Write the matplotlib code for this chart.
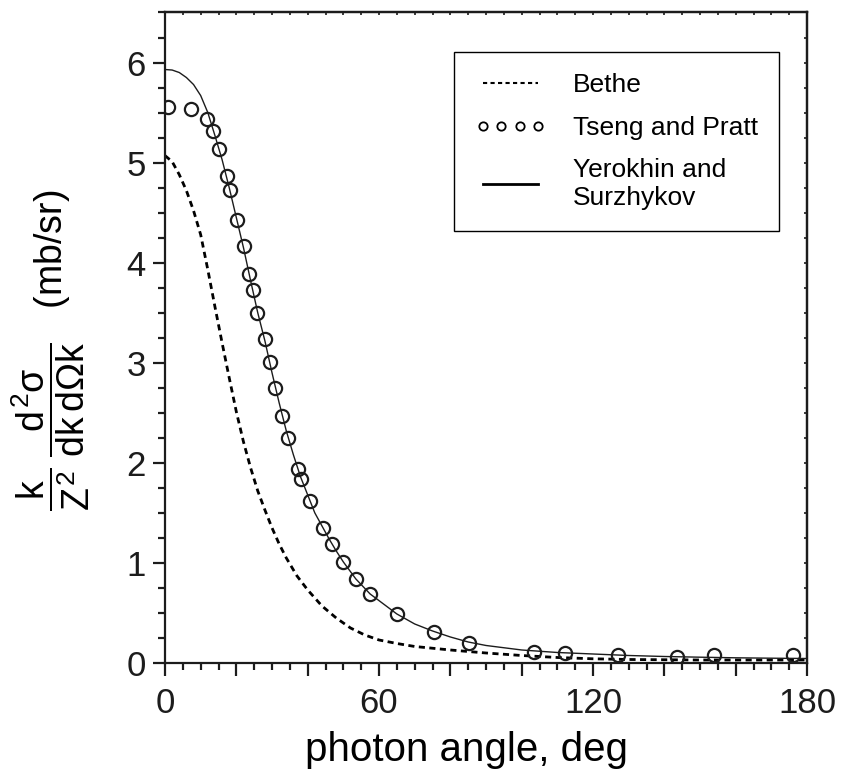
import matplotlib
matplotlib.use("Agg")
import matplotlib.pyplot as plt
from matplotlib.lines import Line2D
from matplotlib.ticker import FuncFormatter, MultipleLocator

plt.rcParams["font.family"] = ["Liberation Sans", "DejaVu Sans"]
plt.rcParams["mathtext.fontset"] = "custom"
plt.rcParams["mathtext.rm"] = "Liberation Sans"
plt.rcParams["mathtext.it"] = "Liberation Sans"
plt.rcParams["mathtext.sf"] = "Liberation Sans"
plt.rcParams["mathtext.bf"] = "Liberation Sans:bold"

INK = "#1c1c1c"

# Bethe (Born approximation), dashed
bethe_angle = [0, 2, 4, 6, 8, 10, 12, 14, 16, 18, 20, 22, 24, 26, 28, 30, 32, 34,
               37, 40, 44, 48, 52, 56, 60, 65, 70, 80, 90, 100, 110, 120, 130,
               150, 180]
bethe_xs = [5.07, 5.01, 4.88, 4.72, 4.52, 4.28, 3.93, 3.56, 3.20, 2.85, 2.51,
            2.21, 1.95, 1.72, 1.53, 1.35, 1.19, 1.05, 0.87, 0.73, 0.57, 0.45,
            0.35, 0.28, 0.23, 0.195, 0.165, 0.13, 0.10, 0.075, 0.055, 0.042,
            0.035, 0.03, 0.03]

# Yerokhin and Surzhykov, solid
ys_angle = [0, 2, 4, 6, 8, 10, 12, 14, 16, 18, 20, 22, 24, 26, 28, 30, 32, 34,
            36, 38, 40, 42, 44, 46, 48, 50, 53.5, 57.5, 65, 70, 75, 80, 85, 90,
            100, 110, 120, 130, 140, 150, 160, 170, 180]
ys_xs = [5.93, 5.925, 5.90, 5.85, 5.78, 5.67, 5.50, 5.27, 5.03, 4.75, 4.45,
         4.15, 3.82, 3.50, 3.22, 2.90, 2.60, 2.32, 2.08, 1.86, 1.68, 1.50, 1.37,
         1.24, 1.12, 1.01, 0.84, 0.69, 0.49, 0.39, 0.32, 0.26, 0.21, 0.175,
         0.13, 0.105, 0.09, 0.075, 0.065, 0.058, 0.052, 0.048, 0.045]

# Tseng and Pratt, open circles
tp_angle = [0.9, 7.3, 11.9, 13.4, 15.2, 17.3, 18.3, 20.1, 22.2, 23.5, 24.6,
            25.8, 27.9, 29.5, 30.7, 32.9, 34.4, 37.3, 38.2, 40.7, 44.3, 46.8,
            49.9, 53.5, 57.4, 65.1, 75.5, 85.3, 103.4, 112.2, 127.0, 143.5,
            153.8, 176.1]
tp_xs = [5.56, 5.54, 5.44, 5.32, 5.14, 4.87, 4.73, 4.43, 4.17, 3.89, 3.73,
         3.50, 3.24, 3.01, 2.75, 2.47, 2.25, 1.94, 1.84, 1.62, 1.35, 1.19,
         1.01, 0.835, 0.69, 0.49, 0.31, 0.20, 0.11, 0.10, 0.08, 0.06, 0.08,
         0.08]

series_labels = ["Bethe", "Tseng and Pratt", "Yerokhin and\nSurzhykov"]

fig = plt.figure(figsize=(8.41, 7.80), dpi=100)
ax = fig.add_axes([0.1962, 0.15, 0.7634, 0.834])

ax.plot(bethe_angle, bethe_xs, color="k", lw=2.0, ls=(0, (2.2, 1.6)))
ax.plot(ys_angle, ys_xs, color=INK, lw=1.0)
ax.plot(tp_angle, tp_xs, ls="none", marker="o", ms=9.5, mfc="none",
        mec=INK, mew=1.6)

ax.set_xlim(0, 180)
ax.set_ylim(0, 6.5)

ax.xaxis.set_major_locator(MultipleLocator(20))
ax.xaxis.set_minor_locator(MultipleLocator(5))
ax.xaxis.set_major_formatter(
    FuncFormatter(lambda v, _: f"{v:.0f}" if round(v) % 60 == 0 else ""))
ax.yaxis.set_major_locator(MultipleLocator(1))
ax.yaxis.set_minor_locator(MultipleLocator(0.25))

ax.tick_params(which="both", direction="out", color=INK, width=1.6,
               labelsize=25, labelcolor=INK)
ax.tick_params(which="major", length=9)
ax.tick_params(which="minor", length=5)
ax.tick_params(axis="x", which="major", pad=8)
ax.tick_params(axis="y", which="major", pad=5)

for spine in ax.spines.values():
    spine.set_linewidth(1.6)
    spine.set_color(INK)

# small inward ticks on the top and right frame
top = ax.secondary_xaxis("top")
top.xaxis.set_major_locator(MultipleLocator(20))
top.xaxis.set_minor_locator(MultipleLocator(5))
top.tick_params(which="both", direction="in", length=2.5, width=1.2,
                color=INK, labeltop=False)
right = ax.secondary_yaxis("right")
right.yaxis.set_major_locator(MultipleLocator(1))
right.yaxis.set_minor_locator(MultipleLocator(0.25))
right.tick_params(which="both", direction="in", length=2.5, width=1.2,
                  color=INK, labelright=False)
top.spines["top"].set_linewidth(1.6)
right.spines["right"].set_linewidth(1.6)

ax.set_xlabel("photon angle, deg", fontsize=29, color="k")
ax.xaxis.set_label_coords(0.469, -0.105)
ax.xaxis.label.set_verticalalignment("top")
ax.set_ylabel(r"$\dfrac{k}{Z^2}\;\dfrac{d^2\sigma}{dk\,d\Omega k}$   (mb/sr)",
              fontsize=27, color="k")
ax.yaxis.label.set_verticalalignment("center")
ax.yaxis.set_label_coords(-0.179, 0.481)

handles = [
    Line2D([], [], color="k", lw=1.5, ls=(0, (2.0, 1.6))),
    Line2D([], [], ls="none", marker="o", ms=6, mfc="none", mec="k", mew=1.3),
    Line2D([], [], color="k", lw=2.0),
]
leg = ax.legend(handles, series_labels, loc="upper right",
                bbox_to_anchor=(0.956, 0.939), borderaxespad=0.0,
                fontsize=19, numpoints=4, handlelength=2.7,
                handletextpad=1.0, borderpad=0.8, labelspacing=0.7,
                fancybox=False, edgecolor="k", framealpha=1.0)
leg.get_frame().set_linewidth(1.0)

fig.savefig("out.png", dpi=100)
